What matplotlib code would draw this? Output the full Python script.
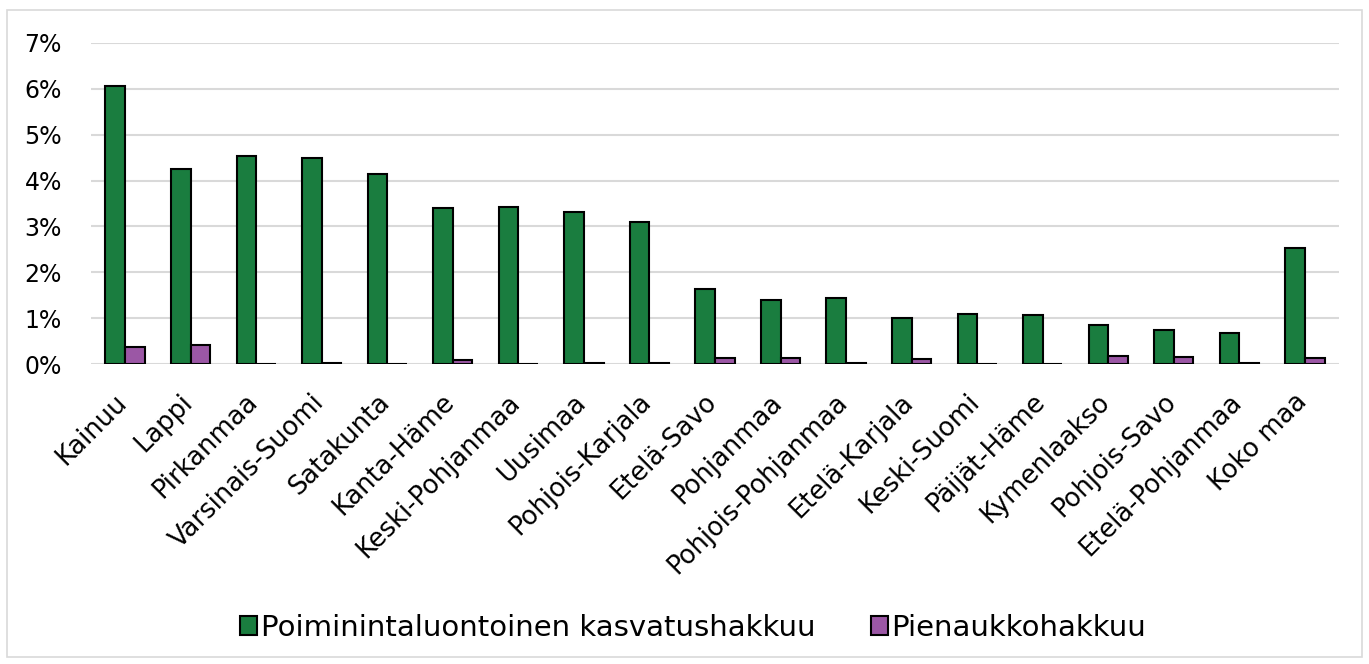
import matplotlib
matplotlib.use("Agg")
import matplotlib.pyplot as plt
from matplotlib.patches import Rectangle
from matplotlib.ticker import FuncFormatter
from matplotlib.transforms import ScaledTranslation
import numpy as np

categories = ["Kainuu", "Lappi", "Pirkanmaa", "Varsinais-Suomi", "Satakunta", "Kanta-Häme",
              "Keski-Pohjanmaa", "Uusimaa", "Pohjois-Karjala", "Etelä-Savo", "Pohjanmaa",
              "Pohjois-Pohjanmaa", "Etelä-Karjala", "Keski-Suomi", "Päijät-Häme", "Kymenlaakso",
              "Pohjois-Savo", "Etelä-Pohjanmaa", "Koko maa"]
poiminta = [6.06, 4.25, 4.54, 4.49, 4.14, 3.40, 3.42, 3.31, 3.10, 1.64, 1.40,
            1.44, 1.00, 1.09, 1.07, 0.85, 0.74, 0.68, 2.53]
pienaukko = [0.38, 0.42, 0.01, 0.02, 0.01, 0.08, 0.01, 0.03, 0.02, 0.12, 0.13,
             0.02, 0.10, 0.01, 0.0, 0.17, 0.16, 0.03, 0.12]
series_names = ["Poiminintaluontoinen kasvatushakkuu", "Pienaukkohakkuu"]
yticks = [0, 1, 2, 3, 4, 5, 6, 7]

green = "#1a7d3f"
purple = "#9b57a5"

fig = plt.figure(figsize=(13.69, 6.64), dpi=100)
ax = fig.add_axes([91/1369, 1-364/664, (1339-91)/1369, (364-43)/664])

x = np.arange(len(categories))
w = 0.3
b1 = ax.bar(x - w/2, poiminta, w, color=green, edgecolor="black", linewidth=1.5, label=series_names[0], zorder=3)
b2 = ax.bar(x + w/2, pienaukko, w, color=purple, edgecolor="black", linewidth=1.5, label=series_names[1], zorder=3)

ax.set_xlim(-0.52, 18.52)
ax.set_ylim(0, 7)
ax.set_yticks(yticks)
ax.yaxis.set_major_formatter(FuncFormatter(lambda v, p: f"{int(v)}%"))
ax.grid(axis="y", color="#d9d9d9", linewidth=1.5, zorder=0)
for s in ax.spines.values():
    s.set_visible(False)
ax.tick_params(axis="both", length=0)
ax.tick_params(axis="y", labelsize=17, pad=21)
ax.set_xticks(x)
ax.set_xticklabels(categories, rotation=45, ha="right", rotation_mode="anchor", fontsize=18.5)
ax.tick_params(axis="x", pad=18)
off = ScaledTranslation(-11/100, 0, fig.dpi_scale_trans)
for lab in ax.get_xticklabels():
    lab.set_transform(lab.get_transform() + off)

leg = fig.legend(handles=[b1, b2], loc="center", bbox_to_anchor=(693/1369, 1-628/664), ncol=2,
                 frameon=False, fontsize=21, handlelength=0.6, handleheight=0.6,
                 handletextpad=0.12, columnspacing=1.9)

fig.patches.append(Rectangle((7/1369, 1-657/664), (1362-7)/1369, (657-10)/664,
                             transform=fig.transFigure, fill=False, edgecolor="#d9d9d9", linewidth=1.2))

fig.savefig("out.png", dpi=100)
